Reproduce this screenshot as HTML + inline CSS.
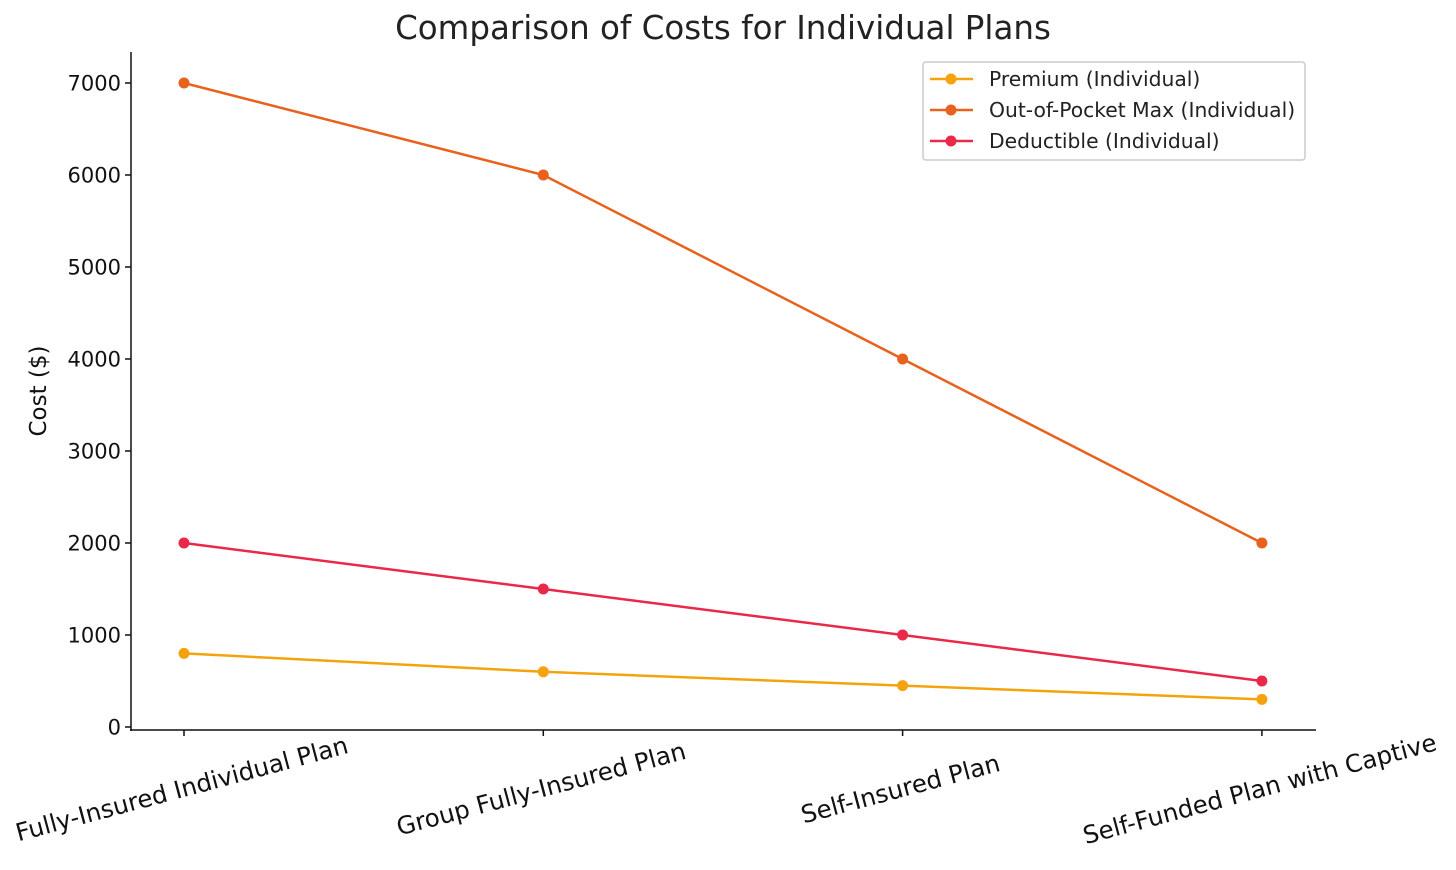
<!DOCTYPE html>
<html><head><meta charset="utf-8"><style>
body{margin:0;background:#fff;}
svg{display:block;font-family:"DejaVu Sans","Liberation Sans",sans-serif;}
</style></head><body>
<svg id="chart" width="1456" height="870">
<text x="723" y="39" font-size="32.5" text-anchor="middle" fill="#222">Comparison of Costs for Individual Plans</text>
<text transform="translate(46,391) rotate(-90)" font-size="23" text-anchor="middle" fill="#111">Cost ($)</text>
<line x1="131" y1="52" x2="131" y2="731" stroke="#111" stroke-width="1.5"/>
<line x1="130" y1="730" x2="1316" y2="730" stroke="#111" stroke-width="1.5"/>
<g id="yticks"></g><g id="xticks"></g><g id="series"></g>
<g>
<rect x="923" y="62" width="382" height="98" rx="3" fill="#fff" stroke="#ccc" stroke-width="1.5"/>
<g id="legend"></g>
</g>
</svg>
<script>
const categories=["Fully-Insured Individual Plan","Group Fully-Insured Plan","Self-Insured Plan","Self-Funded Plan with Captive"];
const premium=[800,600,450,300];
const oopMax=[7000,6000,4000,2000];
const deductible=[2000,1500,1000,500];
const yTicks=[0,1000,2000,3000,4000,5000,6000,7000];
const seriesNames=["Premium (Individual)","Out-of-Pocket Max (Individual)","Deductible (Individual)"];
const NS="http://www.w3.org/2000/svg";
const X0=184,DX=359.3,Y0=727,PX=92;
const xs=i=>X0+i*DX, ys=v=>Y0-v*PX/1000;
function mk(tag,attrs,parent){const e=document.createElementNS(NS,tag);for(const k in attrs)e.setAttribute(k,attrs[k]);parent.appendChild(e);return e;}
const yt=document.getElementById('yticks');
yTicks.forEach(v=>{
 const l=mk('line',{x1:125,x2:131,y1:ys(v),y2:ys(v),stroke:'#111','stroke-width':1.5},yt);
 
 
 const t=mk('text',{x:121,y:ys(v)+7.5,'font-size':21,'text-anchor':'end',fill:'#111'},yt);
 t.textContent=v;
 
 
});
const xt=document.getElementById('xticks');
categories.forEach((c,i)=>{
 const l=mk('line',{x1:xs(i),x2:xs(i),y1:730,y2:736,stroke:'#111','stroke-width':1.5},xt);
 
 
 const t=mk('text',{transform:`translate(${xs(i)},${797}) rotate(-15)`,'font-size':24.5,'text-anchor':'middle',fill:'#111'},xt);
 t.textContent=c;
 
 
});
const colors=["#f5a30c","#e8621e","#e8294a"];
const data=[premium,oopMax,deductible];
const sg=document.getElementById('series');
data.forEach((arr,s)=>{
 const p=mk('polyline',{points:arr.map((v,i)=>xs(i)+','+ys(v)).join(' '),fill:'none',stroke:colors[s],'stroke-width':2.5},sg);
 
 
 arr.forEach((v,i)=>{
  const c=mk('circle',{cx:xs(i),cy:ys(v),r:5.5,fill:colors[s]},sg);
  
  
 });
});
const lg=document.getElementById('legend');
seriesNames.forEach((n,s)=>{
 const y=79+s*31;
 const l=mk('line',{x1:930,x2:973,y1:y,y2:y,stroke:colors[s],'stroke-width':2.5},lg);
 
 
 const c=mk('circle',{cx:951,cy:y,r:5.5,fill:colors[s]},lg);
 
 
 const t=mk('text',{x:989,y:y+7,'font-size':20.3,fill:'#222'},lg);
 t.textContent=n;
 
 
});
</script>
</body></html>
